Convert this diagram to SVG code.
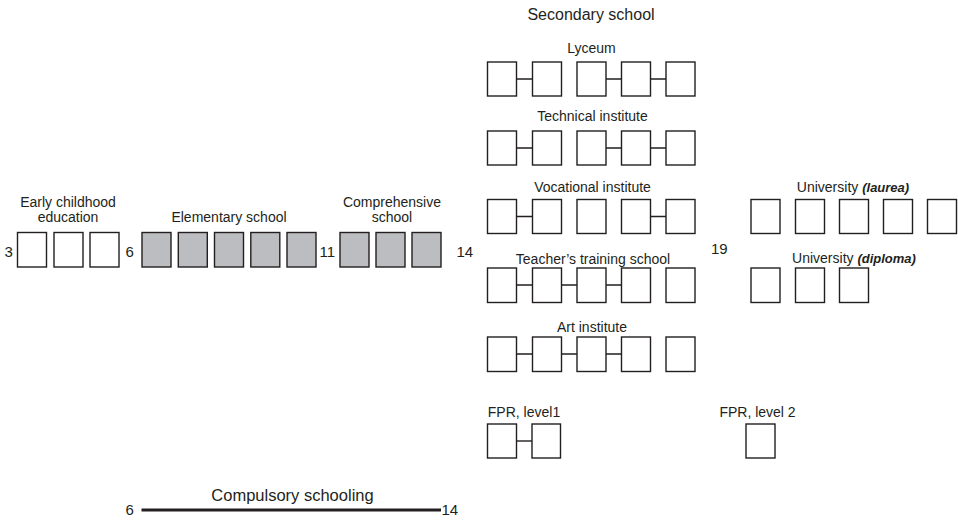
<svg xmlns="http://www.w3.org/2000/svg" width="958" height="521" viewBox="0 0 958 521">
<style>
text{font-family:"Liberation Sans",Arial,sans-serif;fill:#231f20;font-size:14px}
.c{text-anchor:middle}
.n{font-size:15px}
.h{font-size:16px}
.i{font-style:italic;font-weight:bold;font-size:13px}
.b{fill:#fff;stroke:#231f20;stroke-width:1.4}
.g{fill:#bcbdc0;stroke:#231f20;stroke-width:1.4}
.k{stroke:#231f20;stroke-width:1.4;fill:none}
</style>
<rect width="958" height="521" fill="#fff"/>
<g id="early">
<text class="c" x="68" y="207">Early childhood</text>
<text class="c" x="68" y="222">education</text>
<rect class="b" x="17.5" y="232.5" width="29" height="34.5"/>
<rect class="b" x="54" y="232.5" width="29" height="34.5"/>
<rect class="b" x="90" y="232.5" width="29" height="34.5"/>
</g>
<g id="elementary">
<text class="c" x="229" y="222">Elementary school</text>
<rect class="g" x="142" y="232.5" width="29" height="34.5"/>
<rect class="g" x="178.3" y="232.5" width="29" height="34.5"/>
<rect class="g" x="214.5" y="232.5" width="29" height="34.5"/>
<rect class="g" x="250.8" y="232.5" width="29" height="34.5"/>
<rect class="g" x="287" y="232.5" width="29" height="34.5"/>
</g>
<g id="comprehensive">
<text class="c" x="392" y="207">Comprehensive</text>
<text class="c" x="392" y="222">school</text>
<rect class="g" x="340" y="232.5" width="29" height="34.5"/>
<rect class="g" x="376" y="232.5" width="29" height="34.5"/>
<rect class="g" x="412" y="232.5" width="29" height="34.5"/>
</g>
<g id="ages">
<text class="n" x="4.5" y="257">3</text>
<text class="n" x="125.5" y="257">6</text>
<text class="n" x="319.5" y="257">11</text>
<text class="n" x="456.5" y="257">14</text>
<text class="n" x="711" y="254">19</text>
</g>
<g id="secondary">
<text class="c h" x="591" y="20">Secondary school</text>
</g>
<g id="lyceum">
<text class="c" x="591.5" y="53">Lyceum</text>
<rect class="b" x="487.5" y="62" width="29" height="34"/>
<rect class="b" x="532.5" y="62" width="29" height="34"/>
<rect class="b" x="577" y="62" width="29" height="34"/>
<rect class="b" x="621.5" y="62" width="29" height="34"/>
<rect class="b" x="666" y="62" width="29" height="34"/>
</g>
<g id="technical">
<text class="c" x="592.5" y="121">Technical institute</text>
<rect class="b" x="487.5" y="131" width="29" height="34"/>
<rect class="b" x="532.5" y="131" width="29" height="34"/>
<rect class="b" x="577" y="131" width="29" height="34"/>
<rect class="b" x="621.5" y="131" width="29" height="34"/>
<rect class="b" x="666" y="131" width="29" height="34"/>
</g>
<g id="vocational">
<text class="c" x="592.5" y="191.5">Vocational institute</text>
<rect class="b" x="487.5" y="199.5" width="29" height="34"/>
<rect class="b" x="532.5" y="199.5" width="29" height="34"/>
<rect class="b" x="577" y="199.5" width="29" height="34"/>
<rect class="b" x="621.5" y="199.5" width="29" height="34"/>
<rect class="b" x="666" y="199.5" width="29" height="34"/>
</g>
<g id="teachers">
<text class="c" x="593" y="263.5">Teacher’s training school</text>
<rect class="b" x="487.5" y="268" width="29" height="34.5"/>
<rect class="b" x="532.5" y="268" width="29" height="34.5"/>
<rect class="b" x="577" y="268" width="29" height="34.5"/>
<rect class="b" x="621.5" y="268" width="29" height="34.5"/>
<rect class="b" x="666" y="268" width="29" height="34.5"/>
</g>
<g id="art">
<text class="c" x="592" y="331.5">Art institute</text>
<rect class="b" x="487.5" y="337" width="29" height="34.5"/>
<rect class="b" x="532.5" y="337" width="29" height="34.5"/>
<rect class="b" x="577" y="337" width="29" height="34.5"/>
<rect class="b" x="621.5" y="337" width="29" height="34.5"/>
<rect class="b" x="666" y="337" width="29" height="34.5"/>
</g>
<g id="university-laurea">
<text class="c" x="853" y="191.5">University <tspan class="i">(laurea)</tspan></text>
<rect class="b" x="751" y="199.5" width="29" height="34"/>
<rect class="b" x="795.5" y="199.5" width="29" height="34"/>
<rect class="b" x="839.5" y="199.5" width="29" height="34"/>
<rect class="b" x="883.5" y="199.5" width="29" height="34"/>
<rect class="b" x="927.5" y="199.5" width="29" height="34"/>
</g>
<g id="university-diploma">
<text class="c" x="854" y="262.5">University <tspan class="i">(diploma)</tspan></text>
<rect class="b" x="751" y="268" width="29" height="34.5"/>
<rect class="b" x="795.5" y="268" width="29" height="34.5"/>
<rect class="b" x="839.5" y="268" width="29" height="34.5"/>
</g>
<g id="fpr1">
<text class="c" x="524" y="417">FPR, level1</text>
<rect class="b" x="487.5" y="424" width="29" height="34"/>
<rect class="b" x="532" y="424" width="28.5" height="34"/>
</g>
<g id="fpr2">
<text class="c" x="757.5" y="417">FPR, level 2</text>
<rect class="b" x="746" y="424" width="29" height="34"/>
</g>
<g id="compulsory">
<text class="c h" x="292.5" y="500.5" style="font-size:16.5px">Compulsory schooling</text>
<text class="n" x="125.5" y="515">6</text>
<text class="n" x="441.5" y="515">14</text>
<line x1="141.5" y1="510" x2="441" y2="510" stroke="#231f20" stroke-width="3"/>
</g>
<g id="connectors">
<path class="k" d="M516.5 79H532.5M606 79H621.5M650.5 79H666"/>
<path class="k" d="M516.5 148H532.5M606 148H621.5M650.5 148H666"/>
<path class="k" d="M516.5 216.5H532.5M650.5 216.5H666"/>
<path class="k" d="M516.5 285H532.5M561.5 285H577M606 285H621.5"/>
<path class="k" d="M516.5 354H532.5M561.5 354H577M606 354H621.5"/>
<path class="k" d="M516.5 441H532"/>
</g>
</svg>
